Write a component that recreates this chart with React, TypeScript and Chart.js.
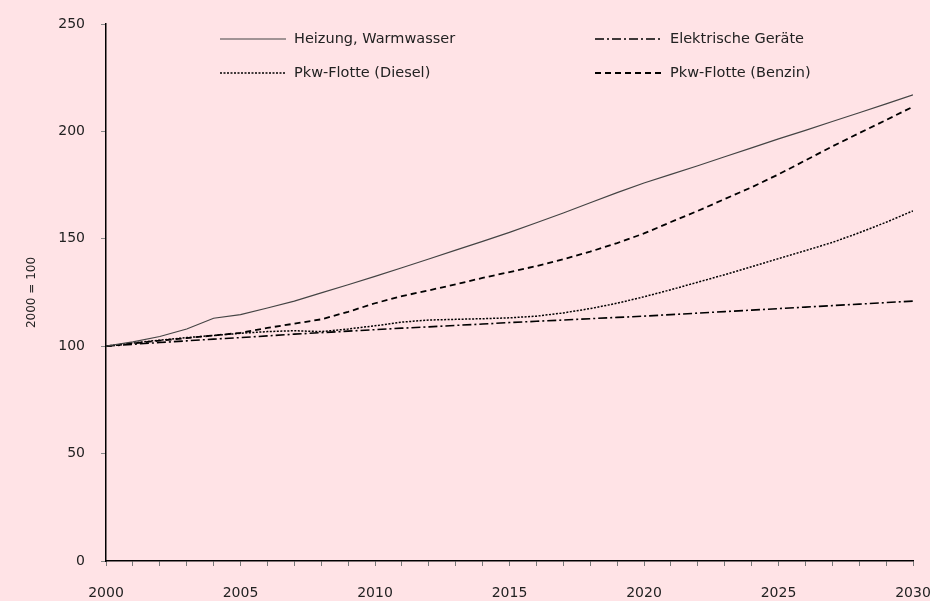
import React, { useEffect, useRef } from "react";
import { Chart, registerables } from "chart.js";
Chart.register(...registerables);

const years = [2000, 2001, 2002, 2003, 2004, 2005, 2006, 2007, 2008, 2009, 2010, 2011, 2012, 2013, 2014, 2015, 2016, 2017, 2018, 2019, 2020, 2021, 2022, 2023, 2024, 2025, 2026, 2027, 2028, 2029, 2030];
const heizung = [100, 102, 104.5, 108, 113, 114.7, 117.8, 121, 124.8, 128.6, 132.5, 136.5, 140.6, 144.7, 148.8, 153, 157.5, 162, 166.8, 171.5, 176, 180, 184, 188.2, 192.3, 196.5, 200.5, 204.6, 208.7, 212.8, 217];
const elektrisch = [100, 100.9, 101.7, 102.5, 103.3, 104, 104.8, 105.6, 106.3, 107, 107.7, 108.4, 109, 109.7, 110.3, 111, 111.6, 112.2, 112.8, 113.4, 114, 114.7, 115.4, 116.1, 116.8, 117.5, 118.2, 118.9, 119.6, 120.3, 121];
const diesel = [100, 101.5, 102.8, 104, 105, 106, 106.8, 107.2, 106.8, 108, 109.5, 111.2, 112.2, 112.5, 112.8, 113.2, 114, 115.5, 117.5, 120, 123, 126.3, 129.8, 133.3, 137, 140.8, 144.5, 148.3, 152.8, 157.7, 163];
const benzin = [100, 101.3, 102.6, 103.8, 105, 106.2, 108.5, 110.5, 112.5, 116, 120, 123.3, 126, 128.8, 131.8, 134.5, 137.3, 140.5, 144, 148, 152.5, 157.8, 163, 168.5, 174, 180, 186.5, 193, 199.2, 205.3, 211.5];
const seriesNames = ["Heizung, Warmwasser", "Elektrische Geräte", "Pkw-Flotte (Diesel)", "Pkw-Flotte (Benzin)"];
const xLabelYears = [2000, 2005, 2010, 2015, 2020, 2025, 2030];
const yTitle = "2000 = 100";

const BG = "#FFE3E6";
const FONT = "'DejaVu Sans', sans-serif";
const TEXT = "#222";

const legendPlugin = {
  id: "customLegend",
  afterDraw(chart: any) {
    const ctx = chart.ctx;
    const slots = [
      { x0: 220, x1: 286, tx: 294, y: 39 },
      { x0: 595, x1: 663, tx: 670, y: 39 },
      { x0: 220, x1: 286, tx: 294, y: 73 },
      { x0: 595, x1: 663, tx: 670, y: 73 },
    ];
    chart.data.datasets.forEach((ds: any, i: number) => {
      const s = slots[i];
      ctx.save();
      ctx.strokeStyle = ds.borderColor;
      ctx.lineWidth = ds.borderWidth;
      ctx.setLineDash(ds.borderDash || []);
      ctx.beginPath();
      ctx.moveTo(s.x0, s.y);
      ctx.lineTo(s.x1, s.y);
      ctx.stroke();
      ctx.setLineDash([]);
      ctx.fillStyle = TEXT;
      ctx.font = `14.5px ${FONT}`;
      ctx.textBaseline = "middle";
      ctx.textAlign = "left";
      ctx.fillText(ds.label, s.tx, s.y);
      ctx.restore();
    });
  },
};

export default function App() {
  const ref = useRef<HTMLCanvasElement | null>(null);
  useEffect(() => {
    document.body.style.margin = "0";
    document.body.style.background = BG;
    const mk = (vals: number[]) => years.map((y, i) => ({ x: y, y: vals[i] }));
    const chart = new Chart(ref.current as HTMLCanvasElement, {
      type: "line",
      data: {
        datasets: [
          { label: seriesNames[0], data: mk(heizung), borderColor: "#444", borderWidth: 1.2, borderDash: [], pointRadius: 0, tension: 0 },
          { label: seriesNames[1], data: mk(elektrisch), borderColor: "#000", borderWidth: 1.6, borderDash: [9, 3, 2, 3], pointRadius: 0, tension: 0 },
          { label: seriesNames[2], data: mk(diesel), borderColor: "#000", borderWidth: 1.5, borderDash: [2, 1.5], pointRadius: 0, tension: 0 },
          { label: seriesNames[3], data: mk(benzin), borderColor: "#000", borderWidth: 1.8, borderDash: [6, 4], pointRadius: 0, tension: 0 },
        ],
      },
      options: {
        animation: false,
        responsive: false,
        layout: { padding: { top: 24, right: 17, left: 0, bottom: 0 } },
        plugins: { legend: { display: false }, tooltip: { enabled: false } },
        scales: {
          x: {
            type: "linear",
            min: 2000,
            max: 2030,
            afterFit: (s: any) => { s.height = 40; s.paddingLeft = 0; s.paddingRight = 0; },
            ticks: {
              stepSize: 1,
              autoSkip: false,
              maxRotation: 0,
              padding: 19,
              color: TEXT,
              font: { family: FONT, size: 14 },
              callback: (v: any) => (xLabelYears.includes(Number(v)) ? String(v) : ""),
            },
            grid: { drawOnChartArea: false, drawTicks: true, tickLength: 5, color: "#777" },
            border: { display: true, color: "#000", width: 1.5 },
          },
          y: {
            min: 0,
            max: 250,
            afterFit: (s: any) => { s.width = 106; s.paddingTop = 0; s.paddingBottom = 0; },
            ticks: { stepSize: 50, padding: 16, color: TEXT, font: { family: FONT, size: 14 } },
            grid: { drawOnChartArea: false, drawTicks: true, tickLength: 5, color: "#888" },
            border: { display: true, color: "#000", width: 1.5 },
            title: { display: true, text: yTitle, color: TEXT, font: { family: FONT, size: 12 }, padding: { top: 25, bottom: 0 } },
          },
        },
      },
      plugins: [legendPlugin],
    });
    return () => chart.destroy();
  }, []);
  return (
    <div style={{ width: 930, height: 601, background: BG }}>
      <canvas ref={ref} width={930} height={601} style={{ display: "block" }} />
    </div>
  );
}
